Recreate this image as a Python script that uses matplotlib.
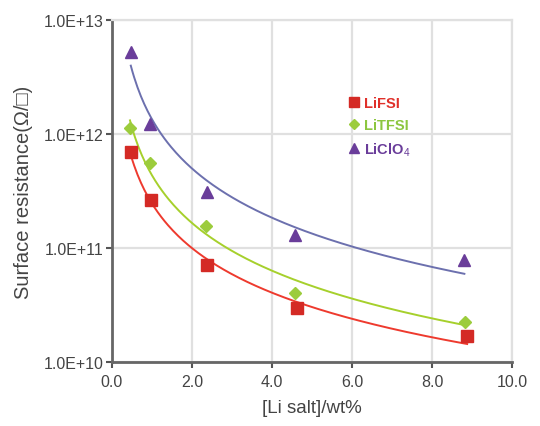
import numpy as np
import matplotlib
matplotlib.use("Agg")
import matplotlib.pyplot as plt
from matplotlib.lines import Line2D

plt.rcParams['font.family'] = ['Liberation Sans', 'DejaVu Sans']
plt.rcParams['mathtext.fontset'] = 'custom'
plt.rcParams['mathtext.rm'] = 'Liberation Sans'
plt.rcParams['mathtext.it'] = 'Liberation Sans'
plt.rcParams['mathtext.bf'] = 'Liberation Sans:bold'

# data
lifsi_x = [0.47, 0.97, 2.38, 4.62, 8.88]
lifsi_y = [6.9e11, 2.65e11, 7.1e10, 2.95e10, 1.68e10]
litfsi_x = [0.45, 0.95, 2.35, 4.57, 8.83]
litfsi_y = [1.13e12, 5.6e11, 1.57e11, 4.0e10, 2.26e10]
liclo4_x = [0.47, 0.95, 2.37, 4.57, 8.81]
liclo4_y = [5.2e12, 1.22e12, 3.1e11, 1.31e11, 7.9e10]

x_ticks = [0, 2, 4, 6, 8, 10]
x_tick_labels = ["0.0", "2.0", "4.0", "6.0", "8.0", "10.0"]
y_ticks = [1e10, 1e11, 1e12, 1e13]
y_tick_labels = ["1.0E+10", "1.0E+11", "1.0E+12", "1.0E+13"]

series = [
    ("LiFSI", lifsi_x, lifsi_y, 's', '#d42a25', '#ee3a2e', 8.5, '#e0302a'),
    ("LiTFSI", litfsi_x, litfsi_y, 'D', '#9ccc3c', '#a6d02c', 6.5, '#8cc63f'),
    ("LiClO$_4$", liclo4_x, liclo4_y, '^', '#6a3d9a', '#6c70ae', 8.5, '#6a3d9a'),
]

fig = plt.figure(figsize=(5.4, 4.27), dpi=100)
ax = fig.add_axes([0.2074, 0.1499, 0.7407, 0.8009])
ax.set_yscale('log')
ax.set_xlim(0, 10)
ax.set_ylim(1e10, 1e13)

ax.grid(True, which='major', color='#e0e0e0', lw=1.6, zorder=0)
ax.set_axisbelow(True)

handles = []
for name, xs, ys, mk, mcol, lcol, ms, tcol in series:
    xs = np.array(xs); ys = np.array(ys)
    b, a = np.polyfit(np.log10(xs), np.log10(ys), 1)
    xf = np.linspace(xs.min(), xs.max(), 200)
    ax.plot(xf, 10 ** (a + b * np.log10(xf)), color=lcol, lw=1.4, zorder=2)
    ax.plot(xs, ys, ls='none', marker=mk, ms=ms, color=mcol, mec=mcol, zorder=3)
    handles.append(Line2D([], [], ls='none', marker=mk, ms=ms * 0.8, color=mcol))

leg = ax.legend(handles, [s[0] for s in series], loc='upper left',
                bbox_to_anchor=(0.56, 0.815), frameon=False,
                handlelength=0.7, handletextpad=0.3, labelspacing=0.55,
                prop={'size': 10.5, 'weight': 'bold'})
for t, s in zip(leg.get_texts(), series):
    t.set_color(s[7])

ax.set_xticks(x_ticks)
ax.set_xticklabels(x_tick_labels)
ax.set_yticks(y_ticks)
ax.set_yticklabels(y_tick_labels)
ax.minorticks_off()
ax.tick_params(axis='both', colors='#555555', labelcolor='#444444',
               labelsize=11.5, length=4, width=1.5, direction='out')
ax.tick_params(axis='x', pad=5)
ax.tick_params(axis='y', pad=2)

for sp in ['left', 'bottom']:
    ax.spines[sp].set_color('#666666')
    ax.spines[sp].set_linewidth(2)
for sp in ['top', 'right']:
    ax.spines[sp].set_color('#e0e0e0')
    ax.spines[sp].set_linewidth(1.6)

ax.set_xlabel('[Li salt]/wt%', fontsize=13.5, color='#444444', labelpad=7)
ax.set_ylabel('Surface resistance(Ω/□)', fontsize=14.5, color='#444444', labelpad=8)

fig.savefig('out.png', dpi=100)
